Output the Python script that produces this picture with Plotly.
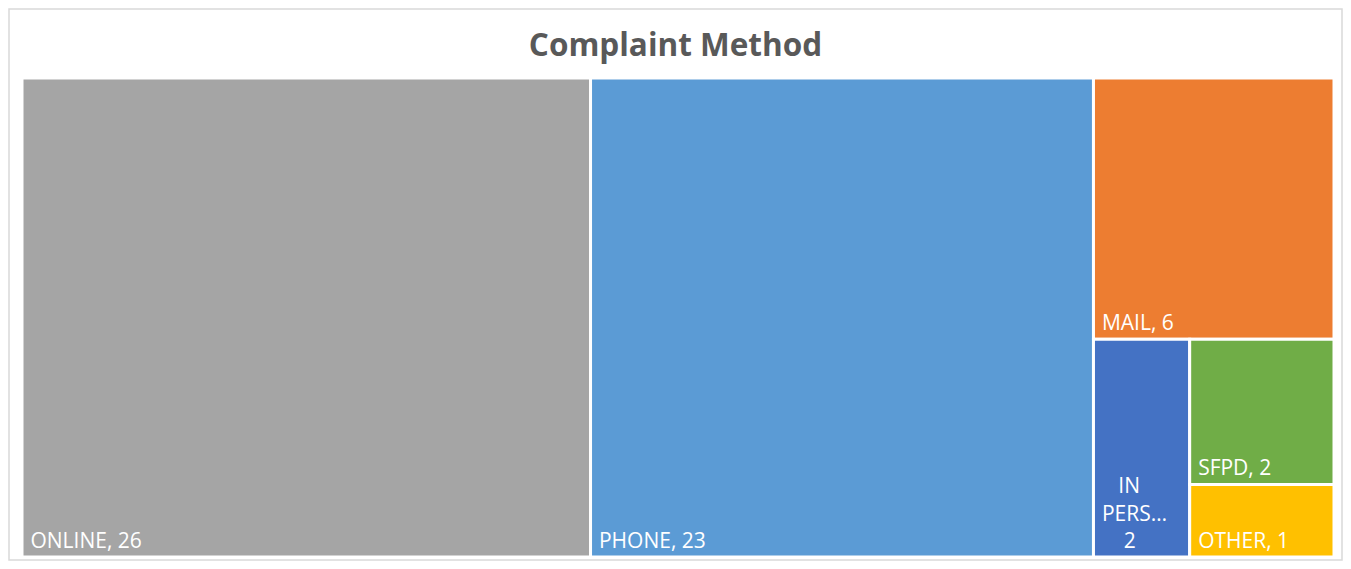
import plotly.graph_objects as go

labels = ["ONLINE", "PHONE", "MAIL", "IN PERSON", "SFPD", "OTHER"]
values = [26, 23, 6, 2, 2, 1]
shown_text = ["ONLINE, 26", "PHONE, 23", "MAIL, 6",
              "\u00a0\u00a0\u00a0IN<br>\u00a0PERS…<br>\u00a0\u00a0\u00a0\u00a0\u00a02",
              "SFPD, 2", "OTHER, 1"]
colors = ["#A5A5A5", "#5B9BD5", "#ED7D31", "#4472C4", "#70AD47", "#FFC000"]

W, H = 1335, 553  # page has 8px body margin

fig = go.Figure(go.Treemap(
    labels=labels,
    parents=[""] * len(labels),
    values=values,
    text=shown_text,
    texttemplate="\u00a0%{text}",
    textposition="bottom left",
    textfont=dict(family="Open Sans, Noto Sans, sans-serif", size=21, color="white"),
    marker=dict(colors=colors, line=dict(color="white", width=3), pad=dict(t=0, l=0, r=0, b=0)),
    tiling=dict(packing="binary", pad=0),
    pathbar=dict(visible=False),
    sort=True,
    hoverinfo="label+value",
))

fig.update_layout(
    width=W, height=H,
    margin=dict(l=14, r=9, t=70, b=4),
    paper_bgcolor="white",
    title=dict(text="<b>Complaint Method</b>", x=0.5, xanchor="center", y=1 - 37 / H, yanchor="middle",
               font=dict(family="Open Sans, Noto Sans, sans-serif", size=31.5, color="#595959")),
    uniformtext=dict(minsize=21, mode="show"),
    shapes=[dict(type="rect", xref="paper", yref="paper",
                 x0=-13 / 1312, x1=1 + 8 / 1312, y0=-3 / 479, y1=1 + 69 / 479,
                 line=dict(color="#D9D9D9", width=1.5), fillcolor="rgba(0,0,0,0)", layer="below")],
)

fig.write_html("out.html")
